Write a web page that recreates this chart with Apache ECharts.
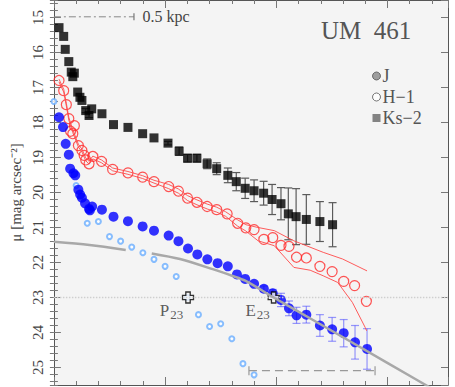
<!DOCTYPE html>
<html>
<head>
<meta charset="utf-8">
<script src="https://cdn.jsdelivr.net/npm/echarts@6/dist/echarts.min.js"></script>
<style>
  html, body { margin: 0; padding: 0; background: #fff; }
  #main { width: 455px; height: 387px; }
</style>
</head>
<body>
<div id="main"></div>
<script>
// radius (arcsec) and surface brightness
const ksR   = [0.23,0.44,0.51,0.67,0.78,0.85,0.92,1.07,1.17,1.26,1.43,1.58,1.70,2.16,2.68,3.33,3.99,4.50,5.13,5.63,6.01,6.43,6.89,7.32,7.82,8.20,8.60,9.00,9.43,9.81,10.21,10.54,10.89,11.35,11.96,12.53];
const ksMu  = [15.29,15.54,15.91,16.26,16.56,16.69,16.59,17.13,17.28,17.37,17.66,17.80,17.61,17.75,18.06,18.14,18.32,18.44,18.59,18.82,19.02,19.02,19.18,19.32,19.51,19.69,19.88,19.95,20.02,20.20,20.32,20.61,20.69,20.77,20.83,20.92];
const ksErr = [0,0,0,0,0,0,0,0,0,0,0.06,0.06,0,0,0,0,0,0,0.05,0.12,0.11,0.11,0.14,0.17,0.21,0.26,0.29,0.31,0.34,0.43,0.46,0.74,0.80,0.71,0.57,0.63];

const hR  = [0.23,0.44,0.56,0.67,0.75,0.85,0.92,1.10,1.26,1.36,1.43,1.58,1.75,2.14,2.64,3.33,3.99,4.50,5.16,5.60,6.01,6.43,6.89,7.32,7.79,8.26,8.63,9.00,9.44,9.84,10.21,10.57,10.91,11.35,11.96,12.51,13.03,13.52,14.05];
const hMu = [16.80,17.09,17.49,17.89,18.25,18.32,18.09,18.66,18.80,18.94,19.07,19.18,18.97,19.11,19.34,19.44,19.56,19.69,19.83,19.96,20.16,20.28,20.40,20.49,20.61,20.88,21.01,21.06,21.34,21.29,21.51,21.54,21.85,21.87,22.11,22.26,22.54,22.66,23.11];
// H band uncertainty envelope
const hUpper = [[0.23,16.76],[0.44,17.05],[0.56,17.45],[0.67,17.85],[0.85,18.21],[1.10,18.62],[1.26,18.76],[1.43,19.01],[1.58,19.11],[1.75,18.96],[2.14,19.07],[2.64,19.30],[3.33,19.40],[3.99,19.52],[4.50,19.65],[5.16,19.77],[5.60,19.90],[6.01,20.09],[6.43,20.21],[6.89,20.33],[7.32,20.42],[7.72,20.55],[8.26,20.78],[8.63,20.92],[9.18,21.00],[9.91,21.09],[10.79,21.38],[12.11,21.71],[12.98,21.90],[14.08,22.24]];
const hLower = [[0.23,16.84],[0.44,17.13],[0.56,17.53],[0.67,17.93],[0.85,18.29],[1.10,18.70],[1.26,18.84],[1.43,19.09],[1.58,19.19],[1.75,19.04],[2.14,19.15],[2.64,19.38],[3.33,19.48],[3.99,19.60],[4.50,19.73],[5.16,19.89],[5.60,20.02],[6.01,20.23],[6.43,20.35],[6.89,20.47],[7.32,20.56],[7.72,20.68],[8.26,20.96],[8.63,21.10],[9.18,21.38],[9.91,21.52],[10.79,22.14],[11.52,22.22],[12.11,22.38],[12.76,22.57],[13.42,23.14],[14.00,23.86],[14.06,23.95]];

const jR   = [0.23,0.41,0.53,0.67,0.73,0.88,0.96,1.10,1.18,1.26,1.40,1.58,1.62,1.72,2.16,2.68,3.33,3.99,4.50,5.16,5.60,6.03,6.45,6.90,7.36,7.82,8.23,8.60,9.00,9.44,9.84,10.21,10.57,10.91,11.35,11.96,12.51,13.03,13.54,14.08];
const jMu  = [17.85,18.13,18.61,18.92,19.32,19.45,19.51,19.92,20.06,20.15,20.31,20.47,20.51,20.40,20.49,20.69,20.82,20.97,21.09,21.23,21.39,21.60,21.77,21.91,22.02,22.11,22.34,22.47,22.61,22.75,22.88,23.07,23.31,23.51,23.49,23.80,23.91,24.02,24.28,24.47];
const jErr = [0,0,0,0,0,0,0,0,0,0,0,0,0,0,0,0,0,0,0,0,0,0,0,0,0,0,0,0,0,0.08,0.11,0.19,0.21,0.23,0.24,0.31,0.34,0.39,0.48,0.58];

// small open circles (host component)
const pR  = [0,1.0,1.5,2.0,2.5,3.0,3.5,4.0,4.5,5.0,5.5,6.0,6.5,7.0,7.5,8.0,8.5,9.0];
const pMu = [17.40,19.80,20.88,20.83,21.26,21.39,21.56,21.72,21.91,22.11,22.40,23.00,23.49,23.83,23.75,24.18,24.89,25.21];

// fitted profile (grey curve), null = gap
const fitR  = [0,1.6,3.23,null,4.4,5.67,7.14,8.01,8.6,9.88,11.67,15.03,17.8];
const fitMu = [21.41,21.50,21.64,null,21.74,21.90,22.19,22.38,22.52,23.00,23.65,24.88,25.90];

const marks = [{name: 'P', r: 6.03, mu: 23.0}, {name: 'E', r: 9.88, mu: 23.0}];
const scaleBar = [[0, 14.98], [3.6, 14.98]];
const bracket = [[8.77, 25.09], [14.44, 25.09]];
const xMax = 17.72;

const serif = 'Liberation Serif';
const zip = (a, b) => a.map((v, i) => (v === null ? [null, null] : [v, b[i]]));

function errSeries(r, mu, err, color) {
  const data = [];
  r.forEach((x, i) => { if (err[i] > 0) data.push([x, mu[i] - err[i], mu[i] + err[i]]); });
  return {
    type: 'custom', silent: true, data: data,
    renderItem: (params, api) => {
      const a = api.coord([api.value(0), api.value(1)]);
      const b = api.coord([api.value(0), api.value(2)]);
      const st = {stroke: color, lineWidth: 1.2};
      return {type: 'group', children: [
        {type: 'line', shape: {x1: a[0], y1: a[1], x2: b[0], y2: b[1]}, style: st},
        {type: 'line', shape: {x1: a[0] - 4, y1: a[1], x2: a[0] + 4, y2: a[1]}, style: st},
        {type: 'line', shape: {x1: b[0] - 4, y1: b[1], x2: b[0] + 4, y2: b[1]}, style: st}
      ]};
    }
  };
}

const chart = echarts.init(document.getElementById('main'), null, {renderer: 'svg'});

const tickAxis = (pos, extra) => Object.assign({
  type: 'value', position: pos,
  axisLine: {show: false}, axisLabel: {show: false}, splitLine: {show: false},
  axisTick: {show: true, inside: true, length: 4, lineStyle: {color: '#777'}}
}, extra);

chart.setOption({
  animation: false,
  title: {
    text: 'UM  461', left: 316, top: 13,
    textStyle: {fontFamily: serif, fontSize: 25, fontWeight: 'normal', color: '#555'}
  },
  legend: {
    orient: 'vertical', left: 367, top: 62, itemWidth: 8, itemHeight: 8, itemGap: 3,
    textStyle: {fontFamily: serif, fontSize: 18, lineHeight: 16, color: '#555', padding: [0, 0, 0, -3]},
    data: [
      {name: 'J', icon: 'circle', itemStyle: {color: '#888', borderColor: '#555', borderWidth: 1}},
      {name: 'H\u22121', icon: 'circle', itemStyle: {color: '#fff', borderColor: '#555', borderWidth: 1}},
      {name: 'Ks\u22122', icon: 'rect', itemStyle: {color: '#666'}}
    ]
  },
  grid: {left: 44, right: 7, top: 0, height: 385, show: true, backgroundColor: '#f4f4f4', borderWidth: 0},
  xAxis: [
    {type: 'value', min: 0, max: xMax, interval: 5, position: 'bottom',
     axisLine: {show: true, lineStyle: {color: '#555'}}, axisLabel: {show: false}, splitLine: {show: false},
     axisTick: {show: true, inside: true, length: 8, lineStyle: {color: '#777'}}},
    tickAxis('bottom', {min: 0, max: xMax, splitNumber: 18}),
    {type: 'value', min: 0, max: xMax, interval: 5, position: 'top',
     axisLine: {show: true, onZero: false, lineStyle: {color: '#555'}}, axisLabel: {show: false}, splitLine: {show: false},
     axisTick: {show: true, inside: true, length: 8, lineStyle: {color: '#777'}}},
    tickAxis('top', {min: 0, max: xMax, splitNumber: 18})
  ],
  yAxis: [
    {type: 'value', inverse: true, min: 14.5, max: 25.5, splitNumber: 11, position: 'left',
     name: '\u03bc [mag arcsec\u207b\u00b2]', nameLocation: 'middle', nameGap: 27, nameRotate: 90,
     nameTextStyle: {fontFamily: serif, fontSize: 15, color: '#444'},
     axisLine: {show: true, onZero: false, lineStyle: {color: '#555'}}, splitLine: {show: false},
     axisTick: {show: true, inside: true, length: 7, lineStyle: {color: '#777'}},
     axisLabel: {rotate: 90, margin: 8, fontFamily: serif, fontSize: 15, color: '#444',
                 showMinLabel: false, showMaxLabel: false}},
    tickAxis('left', {inverse: true, min: 14.5, max: 25.5, splitNumber: 55}),
    {type: 'value', inverse: true, min: 14.5, max: 25.5, splitNumber: 11, position: 'right',
     axisLine: {show: true, onZero: false, lineStyle: {color: '#555'}}, axisLabel: {show: false}, splitLine: {show: false},
     axisTick: {show: true, inside: true, length: 7, lineStyle: {color: '#777'}}},
    tickAxis('right', {inverse: true, min: 14.5, max: 25.5, splitNumber: 55})
  ],
  series: [
    {type: 'line', silent: true, symbol: 'none', data: [[0, 23], [xMax, 23]],
     lineStyle: {color: '#cfcfcf', width: 1.5, type: 'dotted'}},
    {type: 'line', silent: true, symbol: 'none', smooth: 0.3, connectNulls: false,
     data: zip(fitR, fitMu), lineStyle: {color: '#a8a8a8', width: 2.5}},
    {type: 'scatter', silent: true, symbol: 'emptyCircle', symbolSize: 5,
     data: zip(pR, pMu), itemStyle: {color: '#6aaeff', borderWidth: 1}},
    {type: 'line', silent: true, symbol: 'none', data: hUpper, lineStyle: {color: '#ff4a4a', width: 0.9}},
    {type: 'line', silent: true, symbol: 'none', data: hLower, lineStyle: {color: '#ff4a4a', width: 0.9}},
    {name: 'H\u22121', type: 'scatter', symbol: 'circle', symbolSize: 10,
     data: zip(hR, hMu), itemStyle: {color: 'rgba(0,0,0,0)', borderColor: '#ff2a2a', borderWidth: 1.2}},
    errSeries(ksR, ksMu, ksErr, '#5a5a5a'),
    {name: 'Ks\u22122', type: 'scatter', symbol: 'rect', symbolSize: 9,
     data: zip(ksR, ksMu), itemStyle: {color: '#000'}},
    errSeries(jR, jMu, jErr, 'rgba(70,70,255,0.55)'),
    {name: 'J', type: 'scatter', symbol: 'circle', symbolSize: 10,
     data: zip(jR, jMu), itemStyle: {color: '#0000ff'}},
    {type: 'scatter', silent: true,
     symbol: 'path://M3,0 H7 V3 H10 V7 H7 V10 H3 V7 H0 V3 H3 Z', symbolSize: 11,
     itemStyle: {color: '#f4f4f4', borderColor: '#000', borderWidth: 1.3},
     data: marks.map(m => ({
       value: [m.r, m.mu],
       label: {show: true, position: [-22, 8], formatter: '{m|' + m.name + '}{s|23}'}
     })),
     label: {rich: {
       m: {fontFamily: serif, fontSize: 17, color: '#333', lineHeight: 18},
       s: {fontFamily: serif, fontSize: 13, color: '#333', padding: [9, 0, 0, 1]}
     }}},
    {type: 'line', silent: true, symbol: 'none',
     data: [scaleBar[0], {value: scaleBar[1], symbol: 'rect', symbolSize: [1.2, 7],
       label: {show: true, position: 'right', distance: 8, formatter: '0.5 kpc',
               fontFamily: serif, fontSize: 16, color: '#444'}}],
     itemStyle: {color: '#777'}, lineStyle: {color: '#888', width: 1, type: [7, 3, 2, 3]}},
    {type: 'line', silent: true, symbol: 'rect', symbolSize: [1.2, 9], data: bracket,
     itemStyle: {color: '#999'}, lineStyle: {color: '#999', width: 1.2, type: [8, 5]}}
  ]
});
</script>
</body>
</html>
